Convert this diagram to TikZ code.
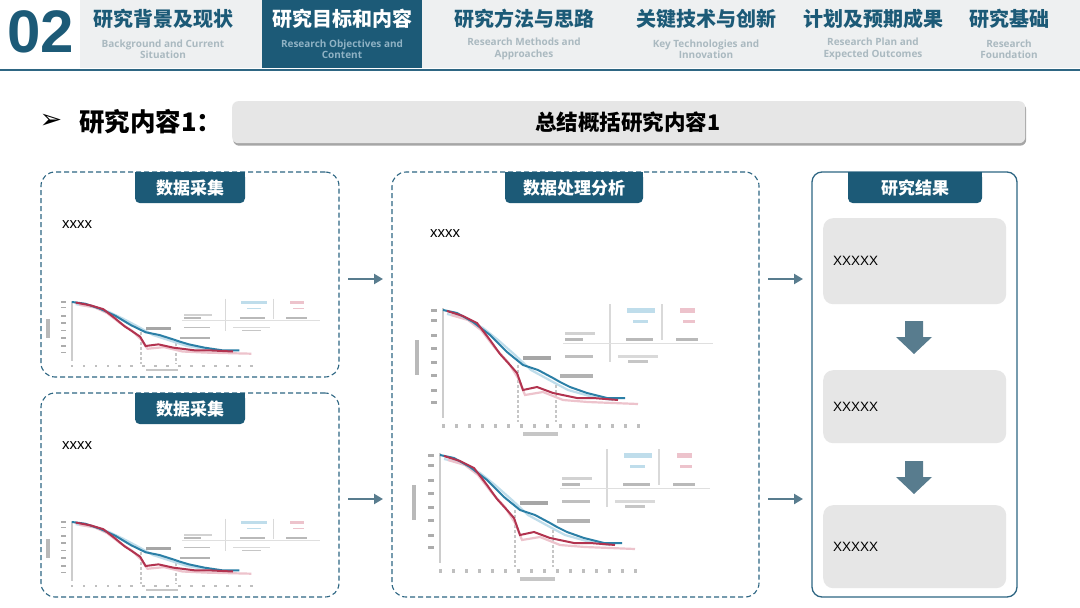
\documentclass[tikz,border=0pt]{standalone}
\usepackage{fontspec}
\setmainfont{Liberation Sans}
\newfontfamily\cjk{Noto Sans CJK SC}
\newfontfamily\osans{Open Sans}
\newfontfamily\dvs{DejaVu Sans}
\usetikzlibrary{shadows,arrows.meta}
\definecolor{mainc}{HTML}{1C5A77}
\definecolor{hdrbg}{HTML}{EEF0F1}
\definecolor{subc}{HTML}{AAB9C0}
\definecolor{subact}{HTML}{8FB2C4}
\definecolor{boxc}{HTML}{2E6683}
\definecolor{arrc}{HTML}{587C8E}
\definecolor{resbg}{HTML}{E6E6E6}
\definecolor{barbg}{HTML}{E6E6E6}
\definecolor{blueC}{HTML}{2B7FA6}
\definecolor{redC}{HTML}{B2334F}
\definecolor{lblue}{HTML}{BFDDEB}
\definecolor{lred}{HTML}{EDC3CC}
\tikzset{
  tabtitle/.style={font=\cjk\bfseries\fontsize{20}{22}\selectfont, text=mainc, inner sep=0pt},
  tabsub/.style={font=\osans\bfseries\fontsize{10}{11.5}\selectfont, text=subc, align=center, inner sep=0pt},
  dashbox/.style={draw=boxc, dash pattern=on 5pt off 3pt, line width=1.1pt, rounded corners=14pt, inner sep=0pt, outer sep=0pt},
  solidbox/.style={draw=boxc, line width=1.3pt, rounded corners=10pt, inner sep=0pt, outer sep=0pt},
  labfill/.style={fill=mainc, rounded corners=5pt, text=white, font=\cjk\bfseries\fontsize{17}{18}\selectfont, inner sep=0pt},
  smalltxt/.style={font=\fontsize{15}{15}\selectfont, inner sep=0pt},
  restxt/.style={font=\fontsize{13.5}{14}\selectfont, inner sep=0pt},
  resbox/.style={fill=resbg, rounded corners=10pt, inner sep=0pt},
  flow/.style={-{Triangle[length=9pt,width=10pt]}, draw=arrc, line width=2.4pt, shorten <=9pt, shorten >=9pt},
}
\newcommand\minichart[4]{%
\begin{scope}[shift={(#1,#2)}, xscale=#3, yscale=#4]
 \draw[line width=2.5pt, gray!40] (0,-2) -- (0,108);
 \foreach \yy in {0,10,25,38,52,65,80,92}{\fill[gray!65] (-12,\yy-1.5) rectangle (-6,\yy+1.5);}
 \fill[gray!55] (-28,30) rectangle (-24,65);
 \foreach \xx in {0,13,...,200}{\fill[gray!50] (\xx-1.5,114) rectangle (\xx+1.5,118);}
 \fill[gray!45] (80,122) rectangle (115,126);
 \draw[gray!45, dash pattern=on 3pt off 2pt, line width=1.2pt] (75,55) -- (75,112);
 \draw[gray!45, dash pattern=on 3pt off 2pt, line width=1.2pt] (113,75) -- (113,112);
 \draw[gray!30, line width=1.5pt] (167,-6) -- (167,52);
 \draw[gray!30, line width=1.5pt] (219,-6) -- (219,30);
 \draw[gray!25, line width=0.8pt] (120,33) -- (270,33);
 \fill[lblue] (184,-2) rectangle (212,3);
 \fill[lred] (237,-2) rectangle (252,3);
 \fill[lblue] (190,10) rectangle (205,12.5);
 \fill[lred] (240,10) rectangle (252,12.5);
 \fill[gray!35] (122,22) rectangle (152,25);
 \fill[gray!55] (122,28) rectangle (140,31);
 \fill[gray!55] (183,28) rectangle (210,31);
 \fill[gray!55] (233,28) rectangle (255,31);
 \fill[gray!50] (122,45) rectangle (150,48);
 \fill[gray!30] (175,45) rectangle (215,48);
 \fill[gray!45] (185,50) rectangle (205,53);
 \draw[line width=2.2pt, lblue] (4,4) -- (22,8) -- (40,18) -- (55,30) -- (72,45) -- (88,60) -- (110,72) -- (125,80) -- (150,87) -- (170,90);
 \draw[line width=2.2pt, lred] (8,5) -- (25,10) -- (38,20) -- (52,38) -- (65,52) -- (75,68) -- (82,85) -- (100,82) -- (120,90) -- (145,92) -- (195,94);
 \draw[line width=2pt, blueC] (0,0) -- (14,3) -- (30,12) -- (47,25) -- (64,42) -- (80,55) -- (95,60) -- (110,68) -- (117,72) -- (127,77) -- (144,83) -- (164,88) -- (182,88);
 \draw[line width=2pt, redC] (4,1) -- (20,6) -- (34,13) -- (47,30) -- (57,44) -- (67,55) -- (74,63) -- (80,80) -- (94,77) -- (110,83) -- (134,88) -- (150,88) -- (175,90);
 \fill[gray!70] (80,46) rectangle (108,50);
 \fill[gray!60] (117,64) rectangle (150,68);
\end{scope}}
\begin{document}
\begin{tikzpicture}[x=1pt,y=-1pt]
\useasboundingbox (0,0) rectangle (1080,608);
\fill[white] (0,0) rectangle (1080,608);
% header
\fill[hdrbg] (80,0) rectangle (1080,68);
\fill[mainc] (262,0) rectangle (422,68);
\draw[boxc, line width=2pt] (0,69.5) -- (1080,69.5);
\node[font=\bfseries\fontsize{60}{60}\selectfont, text=mainc, inner sep=0pt] (num) at (41,32) {02};
\node[tabtitle] (h1) at (163,19) {研究背景及现状};
\node[tabsub] (s1) at (163,49) {Background and Current\\Situation};
\node[tabtitle, text=white] (h2) at (342,19) {研究目标和内容};
\node[tabsub, text=subact] (s2) at (342,49) {Research Objectives and\\Content};
\node[tabtitle] (h3) at (524,19) {研究方法与思路};
\node[tabsub] (s3) at (524,49) {Research Methods and\\Approaches};
\node[tabtitle] (h4) at (706,19) {关键技术与创新};
\node[tabsub] (s4) at (706,49) {Key Technologies and\\Innovation};
\node[tabtitle] (h5) at (873,19) {计划及预期成果};
\node[tabsub] (s5) at (873,49) {Research Plan and\\Expected Outcomes};
\node[tabtitle] (h6) at (1009,19) {研究基础};
\node[tabsub] (s6) at (1009,49) {Research\\Foundation};
% section title
\node[font=\dvs\fontsize{27}{27}\selectfont, inner sep=0pt] (bul) at (51,121) {➢};
\node[font=\cjk\bfseries\fontsize{25.5}{26}\selectfont, anchor=west, inner sep=0pt] (sec) at (79,122) {研究内容1：};
\node[fill=barbg, rounded corners=6pt, minimum width=793pt, minimum height=42pt, anchor=north west, inner sep=0pt,
      drop shadow={shadow xshift=1pt, shadow yshift=-2.5pt, fill=black, opacity=0.35}] (bar) at (232,101) {};
\node[font=\cjk\bfseries\fontsize{21.5}{22}\selectfont, inner sep=0pt] (bartxt) at (628,122) {总结概括研究内容1};
% boxes
\node[dashbox, minimum width=298pt, minimum height=205pt, anchor=north west] (box1) at (41,172) {};
\node[dashbox, minimum width=298pt, minimum height=204pt, anchor=north west] (box2) at (41,393) {};
\node[dashbox, minimum width=367pt, minimum height=425pt, anchor=north west] (mid) at (392,172) {};
\node[solidbox, minimum width=205pt, minimum height=425pt, anchor=north west] (res) at (812,172) {};
% labels
\fill[mainc] (135,172) rectangle (245,185);
\node[labfill, minimum width=110pt, minimum height=31pt, anchor=north] (l1) at (190,172) {数据采集};
\fill[mainc] (135,393) rectangle (245,406);
\node[labfill, minimum width=110pt, minimum height=31pt, anchor=north] (l2) at (190,393) {数据采集};
\fill[mainc] (505,172) rectangle (643,185);
\node[labfill, minimum width=138pt, minimum height=31pt, anchor=north] (l3) at (574,172) {数据处理分析};
\fill[mainc] (848,172) rectangle (982,185);
\node[labfill, minimum width=134pt, minimum height=31pt, anchor=north] (l4) at (915,172) {研究结果};
% texts
\node[smalltxt, anchor=west] (x1) at (62,225) {xxxx};
\node[smalltxt, anchor=west] (x2) at (62,446) {xxxx};
\node[smalltxt, anchor=west] (x3) at (430,234) {xxxx};
% charts
\minichart{72}{302}{0.92}{0.55}
\minichart{72}{522}{0.92}{0.55}
\minichart{443}{310}{1}{1}
\minichart{440}{455}{1}{1}
% result boxes
\node[resbox, minimum width=183pt, minimum height=86pt, anchor=north west] (r1) at (823,218) {};
\node[resbox, minimum width=183pt, minimum height=73pt, anchor=north west] (r2) at (823,370) {};
\node[resbox, minimum width=183pt, minimum height=83pt, anchor=north west] (r3) at (823,505) {};
\node[restxt, anchor=west] (t1) at ([xshift=10pt]r1.west) {XXXXX};
\node[restxt, anchor=west] (t2) at ([xshift=10pt]r2.west) {XXXXX};
\node[restxt, anchor=west] (t3) at ([xshift=10pt]r3.west) {XXXXX};
% block arrows
\fill[arrc] (905,321) -- (923,321) -- (923,337) -- (932,337) -- (914,354) -- (896,337) -- (905,337) -- cycle;
\fill[arrc] (905,461) -- (923,461) -- (923,477) -- (932,477) -- (914,494) -- (896,477) -- (905,477) -- cycle;
% flow arrows
\coordinate (a1) at (box1.east |- 0,279);
\coordinate (a2) at (box2.east |- 0,499);
\draw[flow] (a1) -- (a1 -| mid.west);
\draw[flow] (a2) -- (a2 -| mid.west);
\draw[flow] (a1 -| mid.east) -- (a1 -| res.west);
\draw[flow] (a2 -| mid.east) -- (a2 -| res.west);
\end{tikzpicture}
\end{document}
